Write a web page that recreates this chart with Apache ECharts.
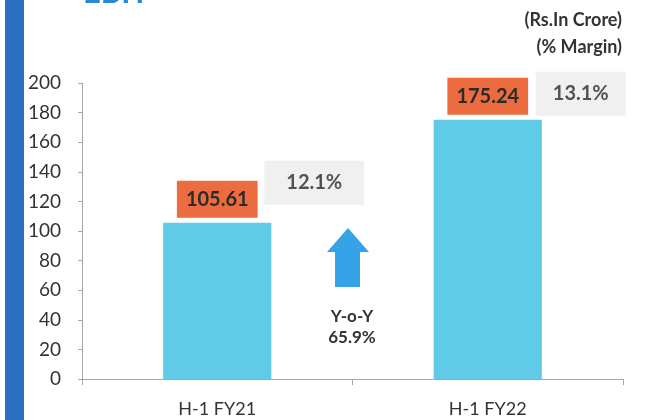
<!DOCTYPE html>
<html><head><meta charset="utf-8">
<script src="https://cdn.jsdelivr.net/npm/echarts@6/dist/echarts.min.js"></script>
<style>html,body{margin:0;padding:0;background:#fff}#c{width:652px;height:420px}</style>
</head><body><div id="c"></div>
<script>
var categories = ['H-1 FY21', 'H-1 FY22'];
var ebitValues = [105.61, 175.24];
var marginLabels = ['12.1%', '13.1%'];
var yTicks = [0, 20, 40, 60, 80, 100, 120, 140, 160, 180, 200];
var titleText = 'EBIT';
var unitLines = ['(Rs.In Crore)', '(% Margin)'];
var yoyLines = ['Y-o-Y', '65.9%'];

var FONT = 'Lato, "Open Sans", sans-serif';
var chart = echarts.init(document.getElementById('c'), null, {renderer: 'canvas'});

var marginOffsets = [[97, -40], [93, -26]];
var marginPads = [[12, 22], [12, 17]];

chart.setOption({
  animation: false,
  grid: {left: 82, right: 29, top: 83, bottom: 41},
  xAxis: {
    type: 'category', data: categories, boundaryGap: true,
    axisLine: {lineStyle: {color: '#a6a6a6', width: 1}},
    axisTick: {show: true, length: 6, alignWithLabel: false, lineStyle: {color: '#a6a6a6'}},
    axisLabel: {color: '#333', fontSize: 18, fontFamily: FONT, margin: 21}
  },
  yAxis: {
    type: 'value', min: yTicks[0], max: yTicks[yTicks.length - 1], interval: yTicks[1] - yTicks[0],
    splitLine: {show: false},
    axisLine: {show: true, lineStyle: {color: '#a6a6a6', width: 1}},
    axisTick: {show: true, length: 4, inside: false, lineStyle: {color: '#a6a6a6'}},
    axisLabel: {color: '#333', fontSize: 19, fontFamily: FONT, margin: 21}
  },
  series: [{
    type: 'bar', data: ebitValues, barWidth: '40%',
    itemStyle: {color: '#5fcbe6'},
    label: {
      show: true, position: 'top', distance: 5,
      backgroundColor: '#ec6c3f', padding: [9, 9, 8, 9],
      color: '#2b2b2b', fontSize: 20, fontWeight: 'bold', fontFamily: FONT,
      formatter: function (p) { return p.value.toFixed(2); }
    }
  }, {
    type: 'scatter', symbolSize: 0, silent: true,
    data: ebitValues.map(function (v, i) {
      return {
        value: [categories[i], v],
        label: {offset: marginOffsets[i], padding: marginPads[i]}
      };
    }),
    label: {
      show: true, position: 'inside',
      backgroundColor: '#ececec',
      color: '#2b2b2b', fontSize: 20, fontWeight: 'bold', fontFamily: FONT,
      formatter: function (p) { return marginLabels[p.dataIndex]; }
    }
  }],
  graphic: [
    {type: 'rect', shape: {x: 5, y: 0, width: 19, height: 420}, style: {fill: '#2b6ec2'}},
    {type: 'text', x: 83, y: -7, style: {text: titleText, fill: '#2b87d6', font: 'bold 31px ' + FONT, textVerticalAlign: 'middle', verticalAlign: 'middle'}},
    {type: 'text', x: 622, y: 20, style: {text: unitLines[0], fill: '#333', font: 'bold 18px ' + FONT, align: 'right', textAlign: 'right', verticalAlign: 'middle', textVerticalAlign: 'middle'}},
    {type: 'text', x: 622, y: 47, style: {text: unitLines[1], fill: '#333', font: 'bold 18px ' + FONT, align: 'right', textAlign: 'right', verticalAlign: 'middle', textVerticalAlign: 'middle'}},
    {type: 'polygon', shape: {points: [[327, 252], [348, 228], [369, 252], [360, 252], [360, 287], [335, 287], [335, 252]]}, style: {fill: '#36a3e9'}},
    {type: 'text', x: 352, y: 317, style: {text: yoyLines[0], fill: '#333', font: 'bold 17px ' + FONT, align: 'center', textAlign: 'center', verticalAlign: 'middle', textVerticalAlign: 'middle'}},
    {type: 'text', x: 352, y: 338, style: {text: yoyLines[1], fill: '#333', font: 'bold 17px ' + FONT, align: 'center', textAlign: 'center', verticalAlign: 'middle', textVerticalAlign: 'middle'}}
  ]
});
</script></body></html>
